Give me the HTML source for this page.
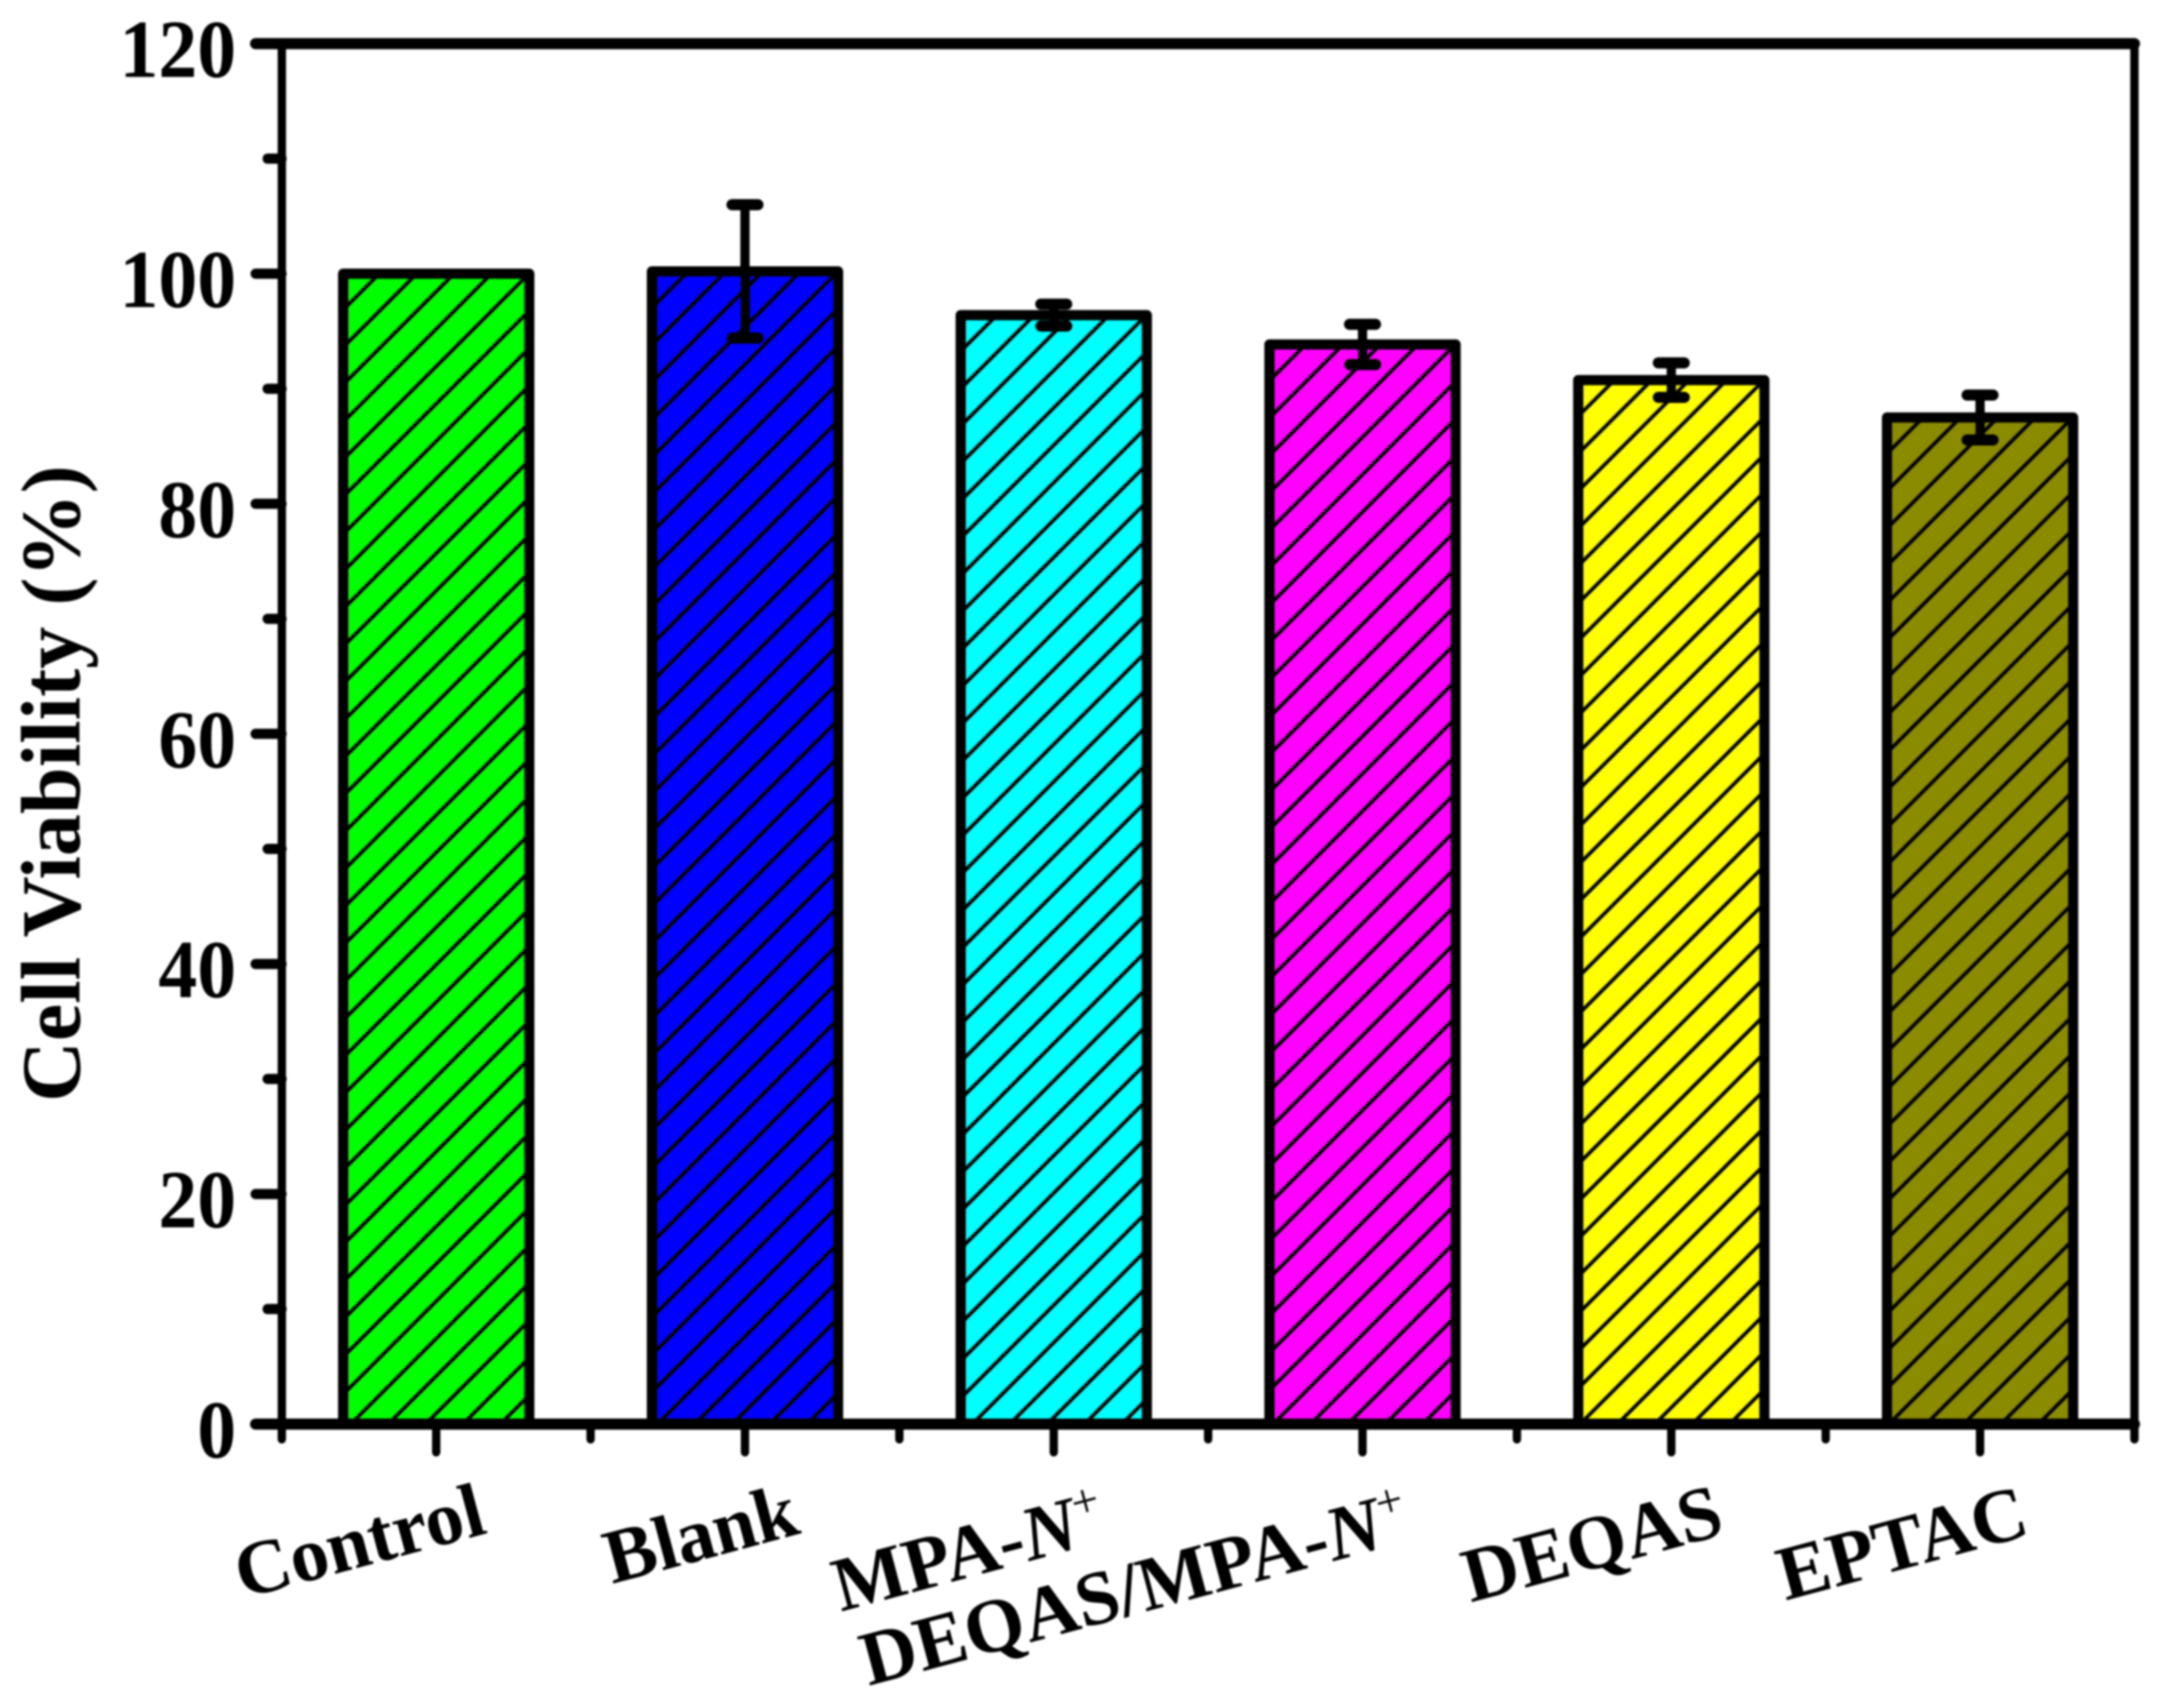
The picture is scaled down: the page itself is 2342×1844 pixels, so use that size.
<!DOCTYPE html>
<html lang="en">
<head>
<meta charset="utf-8">
<title>Cell Viability Bar Chart</title>
<style>
  html, body { margin: 0; padding: 0; background: #ffffff; }
  #chart { display: block; width: 2342px; height: 1844px; filter: blur(1px); }
  text { font-family: "Liberation Serif", serif; font-weight: bold; fill: #000; }
</style>
</head>
<body>
<svg id="chart" xmlns="http://www.w3.org/2000/svg" width="2342" height="1844" viewBox="0 0 2342 1844">
  <defs id="defs"></defs>
  <g id="bars"></g>
  <g id="errors"></g>
  <g id="axes"></g>
  <g id="labels"></g>
  <text transform="translate(86,846) rotate(-90)" text-anchor="middle" font-size="91">Cell Viability (%)</text>
</svg>
<script>
const categories = ["Control", "Blank", "MPA-N+", "DEQAS/MPA-N+", "DEQAS", "EPTAC"];
const values = [100, 100.2, 96.4, 93.85, 90.75, 87.5];
const errorValues = [0, 5.8, 0.95, 1.75, 1.5, 1.95];
const barColors = ["#00ff00", "#0000ff", "#00ffff", "#ff00ff", "#ffff00", "#8b8b00"];
const yMajorTicks = [0, 20, 40, 60, 80, 100, 120];
const yMinorTicks = [10, 30, 50, 70, 90, 110];
const labelAnchors = [[262, 1726], [661, 1710], [908, 1740], [938, 1820], [1588, 1730], [1928, 1728]];

const NS = "http://www.w3.org/2000/svg";
const yScale = v => 1537.5 - 12.42 * v;
const xScale = i => 471 + 333.4 * i;
const BAR_W = 201, BAR_SW = 11, HATCH = 40.37;

function make(tag, attrs, parent) {
  const el = document.createElementNS(NS, tag);
  for (const k in attrs) el.setAttribute(k, attrs[k]);
  parent.appendChild(el);
  return el;
}
const defs = document.getElementById("defs");
const barsG = document.getElementById("bars");
const errG = document.getElementById("errors");
const axesG = document.getElementById("axes");
const labelsG = document.getElementById("labels");

categories.forEach((name, i) => {
  const cx = xScale(i), top = yScale(values[i]), base = yScale(0);
  const left = cx - BAR_W / 2;
  const outerL = left - 5, outerT = top - 6;
  const pat = make("pattern", {id: "hatch" + i, patternUnits: "userSpaceOnUse", x: outerL, y: outerT, width: HATCH, height: HATCH}, defs);
  make("rect", {x: 0, y: 0, width: HATCH, height: HATCH, fill: barColors[i]}, pat);
  make("path", {d: "M-5 14.63L14.63 -5M45.37 4.63L4.63 45.37", stroke: "#000", "stroke-width": 4, fill: "none"}, pat);

  const bar = make("rect", {x: left, y: top, width: BAR_W, height: base - top, fill: "url(#hatch" + i + ")", stroke: "#000", "stroke-width": BAR_SW, "stroke-linejoin": "round"}, barsG);
  
  

  if (errorValues[i] > 0) {
    const eTop = yScale(values[i] + errorValues[i]), eLow = yScale(values[i] - errorValues[i]);
    const err = make("path", {d: `M${cx} ${eTop}V${eLow}`, stroke: "#000", "stroke-width": 10, fill: "none"}, errG);
    
    
    const caps = make("path", {d: `M${cx - 14} ${eTop}H${cx + 14}M${cx - 14} ${eLow}H${cx + 14}`, stroke: "#000", "stroke-width": 12, "stroke-linecap": "round", fill: "none"}, errG);
    
    
  }

  const a = labelAnchors[i];
  const t = make("text", {transform: `translate(${a[0]},${a[1]}) rotate(-15)`, "font-size": 83}, labelsG);
  
  
  if (name.endsWith("N+")) {
    t.appendChild(document.createTextNode(name.slice(0, -2)));
    const n = make("tspan", {"font-style": "italic"}, t);
    n.textContent = "N";
    const p = make("tspan", {"font-size": 52, dy: -30, "font-weight": "normal"}, t);
    p.textContent = "+";
  } else {
    t.textContent = name;
  }

  const tick = make("line", {x1: cx, x2: cx, y1: 1537, y2: 1568, stroke: "#000", "stroke-width": 9, "stroke-linecap": "round"}, axesG);
  
  
});

for (let i = -0.5; i <= categories.length - 0.5; i += 1) {
  const x = xScale(i);
  const m = make("line", {x1: x, x2: x, y1: 1537, y2: 1554, stroke: "#000", "stroke-width": 9, "stroke-linecap": "round"}, axesG);
  
  
}

yMajorTicks.forEach(v => {
  const y = yScale(v);
  const tick = make("line", {x1: 276, x2: 304, y1: y, y2: y, stroke: "#000", "stroke-width": 11, "stroke-linecap": "round"}, axesG);
  
  
  const lab = make("text", {transform: `translate(255,${y + 36}) scale(1,1.06)`, "text-anchor": "end", "font-size": 84}, labelsG);
  lab.textContent = String(v);
  
  
});
yMinorTicks.forEach(v => {
  const y = yScale(v);
  const tick = make("line", {x1: 289, x2: 304, y1: y, y2: y, stroke: "#000", "stroke-width": 11, "stroke-linecap": "round"}, axesG);
  
  
});

const plotLeft = xScale(-0.5), plotRight = xScale(categories.length - 0.5);
const yTop = yScale(120), yBase = yScale(0);
const leftAxis = make("line", {x1: plotLeft, x2: plotLeft, y1: yTop, y2: yBase, stroke: "#000", "stroke-width": 9}, axesG);


const rightAxis = make("line", {x1: plotRight, x2: plotRight, y1: yTop, y2: yBase, stroke: "#000", "stroke-width": 9}, axesG);


const topAxis = make("line", {x1: 276, x2: plotRight, y1: yTop, y2: yTop, stroke: "#000", "stroke-width": 12, "stroke-linecap": "round"}, axesG);


const bottomAxis = make("line", {x1: 276, x2: plotRight, y1: yBase, y2: yBase, stroke: "#000", "stroke-width": 12, "stroke-linecap": "round"}, axesG);


</script>
</body>
</html>
